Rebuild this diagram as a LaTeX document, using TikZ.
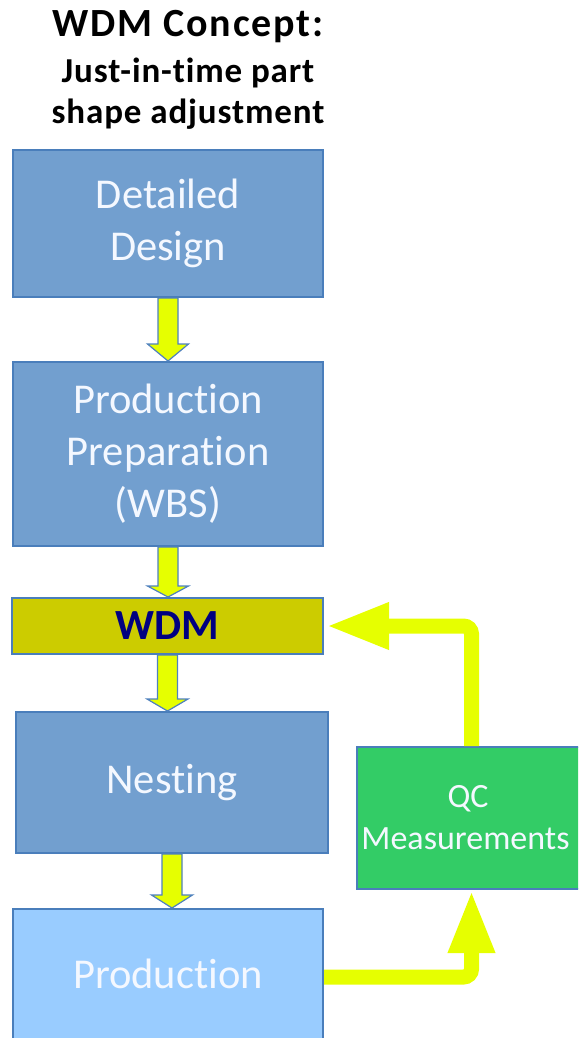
\documentclass[tikz,border=0pt]{standalone}
\usepackage{fontspec}
\setmainfont{Carlito}[Ligatures=NoCommon]
\newfontfamily\titleA[LetterSpace=4.5,Ligatures=NoCommon]{Carlito}
\newfontfamily\titleB[LetterSpace=2.5,Ligatures=NoCommon]{Carlito}
\usetikzlibrary{arrows.meta,calc}
\definecolor{boxblue}{HTML}{729FCF}
\definecolor{edgeblue}{HTML}{4A7EBB}
\definecolor{prodblue}{HTML}{99CCFF}
\definecolor{qcgreen}{HTML}{33CC66}
\definecolor{wdmolive}{HTML}{CCCC00}
\definecolor{wdmtext}{HTML}{000080}
\definecolor{arrowyellow}{HTML}{E6FF00}
\definecolor{arrowedge}{HTML}{4F81BD}
\definecolor{boxtext}{HTML}{F4F8FF}
\newcommand\vblockarrow[3]{%
  \filldraw[varrow] let \p1=(#1.south), \p2=(#2.north) in
   (\x1-10pt,\y1) -- (\x1-10pt,\y2+#3pt) -- (\x1-20.5pt,\y2+#3pt) -- (\x1,\y2)
   -- (\x1+20.5pt,\y2+#3pt) -- (\x1+10pt,\y2+#3pt) -- (\x1+10pt,\y1) -- cycle;}
\tikzset{
  flowbox/.style={draw=edgeblue, line width=2pt, fill=boxblue, anchor=north west,
    inner sep=0pt, align=center, text=boxtext, font=\fontsize{42.5}{52}\selectfont},
  varrow/.style={fill=arrowyellow, draw=arrowedge, line width=1.2pt, line join=miter},
  fbarrow/.style={draw=arrowyellow, line width=15pt, rounded corners=8pt,
    -{Triangle[width=43pt,length=63pt]}},
  titletext/.style={anchor=base, text=black}
}
\begin{document}
\begin{tikzpicture}[x=1pt,y=-1pt]
\useasboundingbox (0,0) rectangle (578,1038);
\clip (0,0) rectangle (578,1038);
\node[titletext, font=\titleA\fontsize{40}{46}\selectfont\bfseries] (title1) at (188,37) {WDM Concept:};
\node[titletext, font=\titleB\fontsize{35}{42}\selectfont\bfseries] (title2) at (188,83) {Just-in-time part};
\node[titletext, font=\titleB\fontsize{35}{42}\selectfont\bfseries] (title3) at (188,124) {shape adjustment};

\node[flowbox, minimum width=310pt, minimum height=147pt] (dd) at (12,149) {Detailed\\Design};
\node[flowbox, minimum width=310pt, minimum height=184pt] (pp) at (12,361) {Production\\Preparation\\(WBS)};
\node[flowbox, fill=wdmolive, text=wdmtext, minimum width=311pt, minimum height=56pt,
  font=\fontsize{43}{52}\selectfont\bfseries] (wdm) at (11,597) {WDM};
\node[flowbox, minimum width=312pt, minimum height=141pt] (nest) at (15,711) {Nesting};
\node[flowbox, fill=prodblue, minimum width=310pt, minimum height=150pt, text depth=0pt] (prod) at (12,908) {};
\node[text=boxtext, font=\fontsize{42.5}{52}\selectfont, anchor=base] (prodlabel) at (prod.north |- 0,988) {Production};
\node[flowbox, fill=qcgreen, minimum width=226pt, minimum height=142pt,
  font=\fontsize{34}{42}\selectfont] (qc) at (356,746) {\hspace*{-4pt}QC\\\hspace*{-4pt}Measurements\hspace*{5pt}};

\vblockarrow{dd}{pp}{17}
\vblockarrow{pp}{wdm}{11}
\vblockarrow{wdm}{nest}{12}
\vblockarrow{nest}{prod}{13}

\draw[fbarrow] ([xshift=1.5pt]qc.north) |- ([xshift=2pt]wdm.east);
\draw[fbarrow] ([yshift=7pt]prod.east) -| ([xshift=1.5pt]qc.south);
\end{tikzpicture}
\end{document}
